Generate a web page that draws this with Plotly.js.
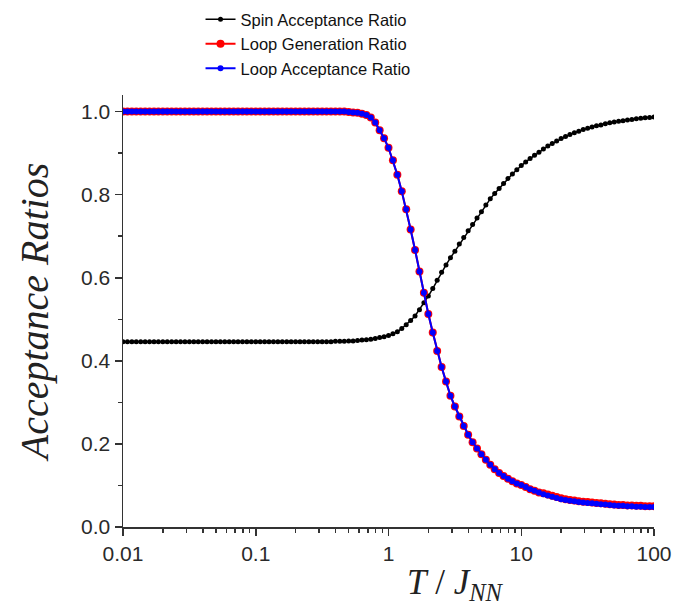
<!DOCTYPE html>
<html>
<head>
<meta charset="utf-8">
<script src="https://cdn.plot.ly/plotly-3.0.1.min.js"></script>
<style>html,body{margin:0;padding:0;background:#fff;}#chart{width:673px;height:608px;}</style>
</head>
<body>
<div id="chart"></div>
<script>
// Temperature T / J_NN (log-spaced, 30 points per decade)
const T = [
0.01,0.010798,0.011659,0.012589,0.013594,0.014678,0.015849,0.017113,0.018478,0.019953,
0.021544,0.023263,0.025119,0.027123,0.029286,0.031623,0.034145,0.036869,0.039811,0.042987,
0.046416,0.050119,0.054117,0.058434,0.063096,0.068129,0.073564,0.079433,0.08577,0.092611,
0.1,0.10798,0.11659,0.12589,0.13594,0.14678,0.15849,0.17113,0.18478,0.19953,
0.21544,0.23263,0.25119,0.27123,0.29286,0.31623,0.34145,0.36869,0.39811,0.42987,
0.46416,0.50119,0.54117,0.58434,0.63096,0.68129,0.73564,0.79433,0.8577,0.92611,
1,1.0798,1.1659,1.2589,1.3594,1.4678,1.5849,1.7113,1.8478,1.9953,
2.1544,2.3263,2.5119,2.7123,2.9286,3.1623,3.4145,3.6869,3.9811,4.2987,
4.6416,5.0119,5.4117,5.8434,6.3096,6.8129,7.3564,7.9433,8.577,9.2611,
10,10.798,11.659,12.589,13.594,14.678,15.849,17.113,18.478,19.953,
21.544,23.263,25.119,27.123,29.286,31.623,34.145,36.869,39.811,42.987,
46.416,50.119,54.117,58.434,63.096,68.129,73.564,79.433,85.77,92.611,
100
];

const spinAcceptance = [
0.446,0.446,0.446,0.446,0.446,0.446,0.446,0.446,0.446,0.446,
0.446,0.446,0.446,0.446,0.446,0.446,0.446,0.446,0.446,0.446,
0.446,0.446,0.446,0.446,0.446,0.446,0.446,0.446,0.446,0.446,
0.446,0.446,0.446,0.446,0.446,0.446,0.446,0.446,0.446,0.446,
0.446,0.446,0.446,0.446,0.446,0.446,0.446,0.446,0.447,0.447,
0.447,0.448,0.448,0.449,0.450,0.451,0.452,0.454,0.456,0.458,
0.461,0.465,0.470,0.478,0.487,0.497,0.508,0.523,0.540,0.556,
0.574,0.594,0.613,0.631,0.648,0.664,0.681,0.697,0.713,0.728,
0.744,0.759,0.775,0.790,0.803,0.815,0.827,0.839,0.850,0.860,
0.870,0.879,0.887,0.895,0.902,0.910,0.917,0.923,0.929,0.935,
0.940,0.945,0.949,0.953,0.957,0.960,0.963,0.966,0.968,0.971,
0.973,0.975,0.977,0.978,0.980,0.981,0.983,0.984,0.985,0.986,
0.987
];

const loopGeneration = [
1,1,1,1,1,1,1,1,1,1,
1,1,1,1,1,1,1,1,1,1,
1,1,1,1,1,1,1,1,1,1,
1,1,1,1,1,1,1,1,1,1,
1,1,1,1,1,1,1,1,1,1,
1,0.999,0.998,0.997,0.995,0.992,0.986,0.974,0.955,0.936,
0.913,0.883,0.848,0.808,0.765,0.716,0.667,0.615,0.564,0.513,
0.468,0.424,0.385,0.350,0.316,0.290,0.266,0.243,0.222,0.204,
0.189,0.175,0.162,0.150,0.139,0.130,0.123,0.116,0.110,0.105,
0.101,0.096,0.091,0.087,0.083,0.081,0.078,0.075,0.072,0.069,
0.067,0.065,0.064,0.062,0.061,0.060,0.059,0.058,0.057,0.056,
0.055,0.054,0.053,0.053,0.052,0.052,0.051,0.051,0.050,0.050,
0.050
];

const loopAcceptance = [
1,1,1,1,1,1,1,1,1,1,
1,1,1,1,1,1,1,1,1,1,
1,1,1,1,1,1,1,1,1,1,
1,1,1,1,1,1,1,1,1,1,
1,1,1,1,1,1,1,1,1,1,
1,0.999,0.998,0.997,0.995,0.992,0.986,0.974,0.955,0.936,
0.913,0.883,0.848,0.808,0.765,0.716,0.667,0.615,0.564,0.513,
0.468,0.424,0.385,0.350,0.316,0.290,0.266,0.243,0.222,0.204,
0.189,0.175,0.162,0.150,0.139,0.130,0.123,0.116,0.110,0.105,
0.101,0.096,0.091,0.087,0.083,0.079,0.076,0.073,0.070,0.067,
0.065,0.063,0.062,0.060,0.059,0.058,0.057,0.056,0.055,0.054,
0.053,0.052,0.051,0.051,0.050,0.050,0.049,0.049,0.048,0.048,
0.048
];

const seriesNames = ["Spin Acceptance Ratio", "Loop Generation Ratio", "Loop Acceptance Ratio"];
const xTickVals = [0.01, 0.1, 1, 10, 100];
const xTickText = ["0.01", "0.1", "1", "10", "100"];
const yTickVals = [0, 0.2, 0.4, 0.6, 0.8, 1.0];
const yTickText = ["0.0", "0.2", "0.4", "0.6", "0.8", "1.0"];

const traces = [
  {x: T, y: spinAcceptance, name: seriesNames[0], type: 'scatter', mode: 'lines+markers',
   line: {color: '#000000', width: 1.5}, marker: {color: '#000000', size: 5}},
  {x: T, y: loopGeneration, name: seriesNames[1], type: 'scatter', mode: 'lines+markers',
   line: {color: '#ff0000', width: 2}, marker: {color: '#ff0000', size: 8}},
  {x: T, y: loopAcceptance, name: seriesNames[2], type: 'scatter', mode: 'lines+markers',
   line: {color: '#0000ff', width: 2}, marker: {color: '#0000ff', size: 6}}
];

const axisFont = {family: 'Liberation Sans, Arial, sans-serif', size: 21, color: '#2a2a2a'};

const layout = {
  width: 673, height: 608,
  margin: {l: 123, r: 19, t: 95, b: 81, autoexpand: false},
  paper_bgcolor: '#ffffff', plot_bgcolor: '#ffffff',
  showlegend: true,
  legend: {x: 0.146, xanchor: 'left', y: 1.215, yanchor: 'top', orientation: 'v',
    font: {family: 'Liberation Sans, Arial, sans-serif', size: 16.5, color: '#111'},
    bgcolor: 'rgba(0,0,0,0)', borderwidth: 0, itemwidth: 30},
  xaxis: {type: 'log', range: [-2, 2], tickmode: 'array', tickvals: xTickVals, ticktext: xTickText,
    ticks: 'outside', ticklen: 7, tickwidth: 1.5, tickcolor: '#333',
    showline: true, linecolor: '#333', linewidth: 1.5, showgrid: false, zeroline: false,
    tickfont: axisFont,
    minor: {dtick: 'D1', ticks: 'outside', ticklen: 4, tickwidth: 1.5, tickcolor: '#333', showgrid: false}},
  yaxis: {range: [0, 1.04], tickmode: 'array', tickvals: yTickVals, ticktext: yTickText,
    ticks: 'outside', ticklen: 7, tickwidth: 1.5, tickcolor: '#333',
    showline: true, linecolor: '#333', linewidth: 1.5, showgrid: false, zeroline: false,
    tickfont: axisFont,
    minor: {dtick: 0.1, ticks: 'outside', ticklen: 4, tickwidth: 1.5, tickcolor: '#333', showgrid: false},
    title: {text: '<i>Acceptance Ratios</i>', standoff: 20,
      font: {family: 'Liberation Serif, Times New Roman, serif', size: 40, color: '#222'}}},
  annotations: [{
    text: '<i>T</i> / <i>J</i><sub><i>NN</i></sub>', xref: 'paper', yref: 'paper',
    x: 0.627, y: -0.078, xanchor: 'center', yanchor: 'top', showarrow: false,
    font: {family: 'Liberation Serif, Times New Roman, serif', size: 35, color: '#222'}
  }]
};

Plotly.newPlot('chart', traces, layout, {displayModeBar: false, staticPlot: true});
</script>
</body>
</html>
